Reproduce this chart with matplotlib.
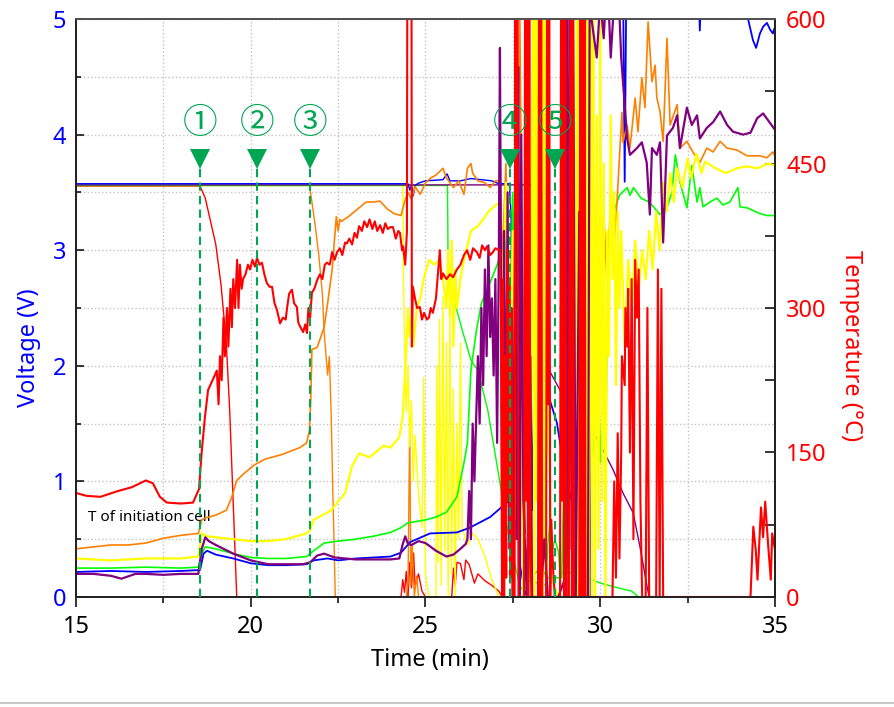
import matplotlib
matplotlib.use("Agg")
import matplotlib.pyplot as plt
from matplotlib.lines import Line2D
from matplotlib.ticker import MultipleLocator

plt.rcParams['font.family'] = ['Noto Sans', 'DejaVu Sans']

##  Cell voltages (V) : (time [min], value)
red_volt = [(15.0,3.555),(18.55,3.555),(18.7,3.45),(18.85,3.25),(19.0,3.05),(19.15,2.7),(19.3,2.2),
            (19.4,1.6),(19.5,0.8),(19.6,0.0),(24.3,0.0),(24.35,0.15),(24.4,0.04),(24.45,0.22),(24.5,0.0),
            (24.55,0.3),(24.6,0.08),(24.66,0.38),(24.7,0.1),(24.8,0.2),(24.9,0.05),(25.0,0.0),(25.75,0.0),
            (25.8,0.25),(25.85,0.1),(25.9,0.3),(26.0,0.29),(26.1,0.15),(26.15,0.32),(26.25,0.28),(26.4,0.12),
            (26.5,0.2),(26.7,0.14),(26.9,0.1),(27.1,0.05),(27.2,0.0),(35.0,0.0)]
orange_volt = [(15.0,3.56),(21.68,3.56),(21.75,3.42),(21.85,3.2),(21.95,2.95),(22.05,2.62),(22.1,2.3),
               (22.15,2.1),(22.2,1.92),(22.25,2.08),(22.3,1.6),(22.35,0.9),(22.42,0.0),(24.45,0.0),(24.5,0.12),
               (24.55,1.55),(24.58,0.1),(24.62,0.45),(24.68,0.0),(24.75,0.18),(24.8,0.0),(35.0,0.0)]
yellow_volt = [(15.0,3.56),(24.35,3.56),(24.37,2.8),(24.4,2.2),(24.45,1.6),(24.5,2.0),(24.55,1.3),(24.6,1.7),
               (24.65,1.0),(24.7,1.4),(24.8,0.9),(24.9,0.6),(24.95,1.9),(25.0,0.2),(25.1,0.0),(25.3,0.0),
               (25.32,2.0),(25.36,0.3),(25.4,2.4),(25.45,0.1),(25.5,2.6),(25.55,0.4),(25.6,2.2),(25.65,0.0),
               (25.7,2.5),(25.75,0.2),(25.8,1.8),(25.85,0.0),(25.9,1.5),(25.95,0.5),(26.0,2.2),(26.05,0.6),
               (26.2,0.45),(26.35,0.55),(26.5,0.5),(26.7,0.35),(26.9,0.15),(27.1,0.0),(35.0,0.0)]
green_volt = [(15.0,3.56),(25.63,3.56),(25.65,2.75),(25.7,2.74),(25.9,2.48),(26.05,2.31),(26.3,2.05),
              (26.5,1.96),(26.78,1.62),(27.07,1.10),(27.35,0.58),(27.55,0.29),(27.7,0.1),(27.8,0.05),
              (28.0,0.15),(28.2,0.12),(28.45,0.1),(28.5,0.45),(28.55,0.62),(28.6,0.35),(28.7,0.5),(28.8,0.4),
              (28.85,0.2),(29.0,0.22),(29.3,0.2),(29.6,0.17),(30.0,0.12),(30.5,0.08),(30.9,0.05),(31.1,0.0),
              (35.0,0.0)]
purple_volt = [(15.0,3.565),(28.28,3.565),(28.32,2.5),(28.36,1.9),(28.56,1.95),(28.85,1.79),(29.05,1.62),
               (29.33,1.59),(29.79,1.44),(30.08,1.27),(30.37,1.10),(30.65,0.90),(30.94,0.73),(31.14,0.43),
               (31.34,0.09),(31.4,0.0),(35.0,0.0)]
blue_volt = [(15.0,3.575),(24.5,3.575),(24.55,3.52),(24.6,3.56),(24.65,3.47),(24.7,3.56),(24.8,3.58),
             (25.0,3.6),(25.5,3.61),(25.62,3.66),(25.7,3.6),(26.0,3.6),(26.3,3.62),(26.6,3.61),(26.9,3.6),
             (27.1,3.575),(27.4,3.575),(27.45,3.3),(27.5,1.0),(27.55,2.0),(27.6,1.2),(27.65,1.8),(27.7,0.3),
             (27.8,0.1),(27.9,0.0),(35.0,0.0)]

##  Cell temperatures (degC) : (time [min], value)
red_temp = [(15.0,108),(15.3,105),(15.7,104),(16.2,110),(16.6,114),(17.0,121),(17.2,118),(17.4,104),(17.6,98),
            (18.0,97),(18.35,98),(18.52,112),(18.6,152),(18.69,187),(18.78,215),(18.92,226),(19.03,235),
            (19.08,200),(19.12,250),(19.17,225),(19.22,290),(19.26,250),(19.32,300),(19.36,260),(19.42,320),
            (19.46,280),(19.5,330),(19.55,300),(19.61,350),(19.65,300),(19.69,345),(19.74,320),(19.78,330),
            (19.85,335),(19.92,345),(19.98,340),(20.05,350),(20.12,343),(20.18,352),(20.25,345),(20.32,347),
            (20.39,335),(20.46,326),(20.54,322),(20.61,322),(20.68,305),(20.75,298),(20.8,290),(20.84,284),
            (20.92,290),(21.0,288),(21.04,300),(21.1,315),(21.18,319),(21.24,305),(21.32,301),(21.36,285),
            (21.41,281),(21.5,275),(21.56,283),(21.61,274),(21.65,300),(21.7,290),(21.75,316),(21.82,320),
            (21.9,329),(21.98,335),(22.05,330),(22.12,345),(22.18,347),(22.26,345),(22.33,358),(22.4,350),
            (22.47,358),(22.55,362),(22.62,355),(22.7,368),(22.75,367),(22.82,372),(22.9,366),(22.97,378),
            (23.04,373),(23.1,385),(23.18,380),(23.25,390),(23.33,384),(23.4,392),(23.48,382),(23.55,390),
            (23.62,380),(23.7,386),(23.78,378),(23.85,388),(23.92,382),(24.0,384),(24.07,384),(24.15,372),
            (24.22,380),(24.27,378),(24.33,360),(24.36,364),(24.42,345),(24.47,380),(24.48,650),(24.6,650),
            (24.61,260),(24.64,322),(24.7,310),(24.76,300),(24.84,301),(24.9,288),(24.96,295),(25.04,288),
            (25.1,290),(25.15,300),(25.21,295),(25.3,310),(25.41,360),(25.45,330),(25.5,336),(25.6,330),
            (25.7,335),(25.79,332),(25.9,340),(26.0,345),(26.1,355),(26.19,360),(26.28,350),(26.36,362),
            (26.47,358),(26.55,352),(26.62,365),(26.7,360),(26.76,364),(26.85,355),(26.93,358),(27.0,362),
            (27.13,360),(27.16,300),(27.19,0),(27.22,330),(27.25,0),(27.28,250),(27.31,20),(27.34,360),
            (27.37,100),(27.4,330),(27.43,20),(27.46,300),(27.49,0),(27.55,0),(27.57,650),(27.6,400),
            (27.63,650),(27.66,0),(27.82,0),(27.85,650),(27.88,100),(27.91,650),(27.94,0),(27.97,650),
            (28.0,60),(28.03,0),(28.22,0),(28.25,650),(28.28,0),(28.31,650),(28.34,0),(28.45,0),(28.48,650),
            (28.51,200),(28.54,650),(28.57,0),(28.6,80),(28.65,30),(28.7,0),(28.85,0),(28.88,650),(28.91,100),
            (28.94,650),(28.97,0),(29.0,650),(29.03,0),(29.1,0),(29.13,500),(29.16,650),(29.19,0),(29.22,650),
            (29.25,0),(29.4,0),(29.43,650),(29.46,0),(29.49,650),(29.52,0),(29.55,650),(29.58,0),(29.7,0),
            (30.35,0),(30.4,120),(30.45,20),(30.5,170),(30.55,40),(30.6,150),(30.62,250),(30.7,220),(30.72,300),
            (30.77,260),(30.8,320),(30.85,150),(30.9,330),(30.95,60),(31.0,350),(31.05,290),(31.1,340),
            (31.15,100),(31.2,0),(31.3,0),(31.35,300),(31.4,0),(31.6,0),(31.65,340),(31.7,0),(31.75,320),
            (31.8,0),(34.3,0),(34.38,73),(34.45,49),(34.5,18),(34.6,93),(34.66,62),(34.72,99),(34.8,56),
            (34.88,18),(34.92,66),(35.0,49)]
orange_temp = [(15.0,50),(15.5,52),(16.0,54),(16.5,54),(17.0,56),(17.5,61),(18.0,64),(18.5,66),(18.6,80),
               (18.7,82),(19.0,85),(19.3,90),(19.45,103),(19.6,121),(19.8,128),(20.1,137),(20.4,143),(20.9,148),
               (21.4,155),(21.6,160),(21.68,173),(21.72,208),(21.75,257),(21.9,259),(22.1,280),(22.2,305),
               (22.33,340),(22.4,373),(22.45,395),(22.5,380),(22.55,392),(22.6,390),(22.8,395),(23.1,404),
               (23.3,410),(23.5,410),(23.7,411),(23.9,403),(24.1,398),(24.3,396),(24.4,410),(24.5,420),
               (24.6,413),(24.7,426),(24.85,418),(25.0,430),(25.15,435),(25.3,438),(25.5,445),(25.6,435),
               (25.8,425),(25.95,432),(26.1,418),(26.2,445),(26.3,450),(26.35,440),(26.5,432),(26.7,430),
               (26.85,425),(27.0,432),(27.13,432),(27.2,350),(27.3,450),(27.4,280),(27.5,120),(27.6,400),
               (27.7,600),(27.8,200),(27.9,650),(28.0,300),(28.1,650),(28.2,400),(28.3,200),(28.4,80),(28.5,0),
               (29.5,0),(29.55,100),(29.6,50),(29.7,300),(29.8,200),(29.9,420),(30.0,280),(30.1,400),(30.2,320),
               (30.28,397),(30.36,349),(30.48,410),(30.62,503),(30.65,472),(30.77,490),(30.85,466),(31.0,518),
               (31.08,483),(31.19,539),(31.28,508),(31.37,597),(31.48,535),(31.57,552),(31.62,518),(31.71,504),
               (31.8,473),(31.91,580),(32.0,490),(32.2,511),(32.28,466),(32.48,473),(32.65,462),(32.85,451),
               (33.05,466),(33.23,462),(33.43,473),(33.63,466),(33.91,464),(34.2,458),(34.57,458),(34.77,456),
               (34.94,462),(35.0,458)]
yellow_temp = [(15.0,40),(16.0,38),(17.0,40),(18.0,40),(18.5,42),(18.6,66),(18.75,63),(19.0,62),(19.5,60),
               (20.0,58),(20.5,58),(21.0,60),(21.6,66),(21.7,70),(21.8,80),(22.3,90),(22.7,108),(22.9,136),
               (23.1,149),(23.4,145),(23.8,157),(24.0,155),(24.25,166),(24.35,187),(24.4,222),(24.45,257),
               (24.5,300),(24.55,270),(24.6,290),(24.65,260),(24.75,300),(24.85,310),(24.95,330),(25.1,350),
               (25.25,345),(25.4,350),(25.5,330),(25.6,300),(25.65,360),(25.7,290),(25.75,370),(25.8,260),
               (25.85,340),(25.9,300),(26.0,330),(26.1,350),(26.3,380),(26.5,385),(26.65,392),(26.8,400),
               (26.95,405),(27.13,410),(27.2,300),(27.3,430),(27.4,200),(27.5,380),(27.6,80),(27.7,300),(27.8,0),
               (27.9,250),(28.0,50),(28.08,650),(28.11,0),(28.14,650),(28.17,100),(28.2,650),(28.23,0),(28.26,650),
               (28.29,50),(28.32,650),(28.35,0),(28.38,600),(28.41,50),(28.44,650),(28.47,150),(28.5,650),
               (28.53,200),(28.6,20),(28.8,0),(29.3,0),(29.33,650),(29.36,0),(29.39,650),(29.42,100),(29.45,650),
               (29.48,0),(29.51,650),(29.54,100),(29.57,650),(29.6,0),(29.63,650),(29.67,0),(29.72,650),
               (29.76,0),(29.8,650),(29.85,0),(29.9,500),(29.95,50),(30.0,600),(30.05,100),(30.1,450),(30.15,0),
               (30.2,380),(30.25,250),(30.3,500),(30.35,330),(30.4,420),(30.45,220),(30.5,400),(30.55,300),
               (30.6,380),(30.7,260),(30.8,350),(30.9,300),(31.0,370),(31.1,320),(31.2,360),(31.3,330),
               (31.4,380),(31.5,340),(31.6,400),(31.7,360),(31.8,430),(31.9,400),(32.0,440),(32.1,410),
               (32.2,445),(32.35,425),(32.5,455),(32.6,435),(32.75,460),(32.9,440),(33.0,452),(33.3,445),
               (33.6,440),(33.9,445),(34.2,447),(34.5,445),(34.8,450),(35.0,448)]
green_temp = [(15.0,30),(16.0,30),(17.0,31),(18.0,30),(18.5,31),(18.6,45),(18.7,52),(19.0,50),(19.5,45),
              (20.0,41),(20.5,40),(21.0,40),(21.6,42),(21.8,48),(22.1,56),(22.5,58),(23.0,60),(23.5,63),
              (24.0,67),(24.3,72),(24.5,77),(25.0,80),(25.3,83),(25.6,88),(25.9,104),(26.1,139),(26.2,160),
              (26.3,235),(26.45,275),(26.6,305),(26.8,322),(27.0,340),(27.15,355),(27.3,370),(27.4,250),
              (27.5,420),(27.6,150),(27.7,300),(27.8,40),(27.9,200),(28.0,20),(28.3,30),(28.5,20),(28.9,20),
              (29.0,200),(29.05,30),(29.2,250),(29.3,50),(29.4,300),(29.5,120),(29.6,390),(29.65,60),(29.7,260),
              (29.8,150),(29.9,240),(30.0,140),(30.1,250),(30.15,130),(30.2,290),(30.28,389),(30.36,397),
              (30.55,417),(30.77,425),(30.85,417),(30.95,425),(31.17,414),(31.4,410),(31.55,404),(31.71,397),
              (31.91,404),(32.05,420),(32.15,459),(32.28,431),(32.48,404),(32.62,448),(32.77,410),(32.85,425),
              (32.94,405),(33.14,410),(33.34,414),(33.51,407),(33.71,410),(33.94,425),(34.0,405),(34.2,404),
              (34.57,398),(34.77,396),(35.0,396)]
blue_temp = [(15.0,26),(16.0,27),(17.0,26),(18.0,27),(18.55,28),(18.65,45),(18.75,48),(19.0,44),(19.5,40),
             (20.0,35),(20.5,33),(21.0,33),(21.6,34),(21.8,38),(22.2,40),(22.5,38),(23.0,40),(23.5,41),
             (24.0,42),(24.3,46),(24.56,57),(25.13,66),(25.9,67),(26.27,72),(26.85,83),(27.33,98),(27.47,103),
             (27.5,200),(27.55,60),(27.6,180),(27.65,80),(27.7,230),(27.75,100),(27.8,205),(27.85,66),(27.9,220),
             (27.95,80),(28.0,240),(28.05,90),(28.1,200),(28.15,120),(28.2,230),(28.28,180),(28.36,218),
             (28.56,204),(28.76,181),(28.93,142),(29.05,119),(29.28,87),(29.42,59),(29.62,15),(29.7,0),
             (29.75,300),(29.78,650),(30.65,650),(30.7,431),(30.75,650),(32.8,650),(32.85,588),(32.9,650),
             (34.2,650),(34.23,600),(34.37,578),(34.46,570),(34.57,585),(34.66,592),(34.77,596),(34.86,589),
             (34.94,585),(35.0,592)]
purple_temp = [(15.0,24),(15.5,24),(16.0,22),(16.3,19),(16.7,24),(17.0,24),(17.5,23),(18.0,24),(18.5,24),
               (18.6,50),(18.7,62),(18.8,58),(19.0,54),(19.5,45),(20.0,38),(20.5,34),(21.0,34),(21.5,34),
               (21.7,36),(21.9,43),(22.1,45),(22.4,41),(23.0,39),(24.0,39),(24.25,40),(24.35,55),(24.42,63),
               (24.5,55),(24.6,54),(24.8,58),(25.0,56),(25.3,48),(25.6,42),(25.8,44),(26.0,50),(26.15,55),
               (26.2,60),(26.25,110),(26.3,60),(26.35,180),(26.4,120),(26.5,250),(26.55,180),(26.6,300),
               (26.65,220),(26.7,340),(26.75,250),(26.8,365),(26.85,270),(26.9,310),(26.95,230),(27.0,330),
               (27.05,160),(27.1,360),(27.13,570),(27.16,350),(27.2,60),(27.25,380),(27.3,100),(27.35,420),
               (27.4,50),(27.45,300),(27.5,0),(27.58,500),(27.62,60),(27.66,550),(27.7,0),(27.74,480),
               (27.8,100),(27.9,0),(28.0,250),(28.05,0),(28.3,0),(28.4,60),(28.5,0),(28.8,0),(29.0,20),
               (29.05,650),(29.09,0),(29.13,650),(29.18,50),(29.22,650),(29.3,0),(29.4,400),(29.45,0),
               (29.65,0),(29.7,650),(29.75,600),(29.9,560),(30.0,620),(30.1,580),(30.2,650),(30.3,560),
               (30.4,620),(30.5,650),(30.6,560),(30.77,476),(30.85,459),(31.05,466),(31.19,472),(31.33,451),
               (31.42,397),(31.48,466),(31.62,459),(31.71,472),(31.8,368),(31.91,479),(32.08,487),(32.2,500),
               (32.28,466),(32.48,508),(32.62,490),(32.77,500),(32.85,476),(33.05,487),(33.23,493),(33.43,504),
               (33.63,490),(33.8,483),(34.09,480),(34.3,482),(34.49,497),(34.66,502),(34.86,492),(35.0,485)]

##  Propagation events (min)
event_t = [18.55, 20.18, 21.71, 27.43, 28.71]
event_labels = ['①', '②', '③', '④', '⑤']

col = {'red': '#ff0000', 'orange': '#ff8000', 'yellow': '#ffff00',
       'green': '#00ff00', 'blue': '#0000ff', 'purple': '#800080'}
mark_green = '#00a651'


fig = plt.figure(figsize=(8.95, 7.07), dpi=100)
ax = fig.add_axes([0.0849, 0.1556, 0.781, 0.8175])
ax2 = ax.twinx()

##  Voltages on the left axis
for name, data in [('red', red_volt), ('orange', orange_volt), ('yellow', yellow_volt),
                   ('green', green_volt), ('purple', purple_volt), ('blue', blue_volt)]:
    t, v = zip(*data)
    ax.plot(t, v, color=col[name], lw=1.0)

##  Temperatures on the right axis
for name, data, lw in [('green', green_temp, 1.2), ('blue', blue_temp, 1.3), ('orange', orange_temp, 1.2),
                       ('yellow', yellow_temp, 1.6), ('purple', purple_temp, 1.6), ('red', red_temp, 1.5)]:
    t, v = zip(*data)
    ax2.plot(t, v, color=col[name], lw=lw)

##  Event markers (in voltage units, drawn above everything)
ax2.vlines(event_t, 0, 3.71, colors=mark_green, linestyles=(0, (4, 2.5)), lw=1.5,
           transform=ax.transData, zorder=10)
ax2.plot(event_t, [3.79] * len(event_t), 'v', ms=14, color=mark_green, mew=0,
         transform=ax.transData, zorder=11)
for x, lab in zip(event_t, event_labels):
    ax2.text(x, 4.10, lab, transform=ax.transData, color=mark_green, fontsize=25,
             ha='center', va='center', family=['Noto Sans CJK JP', 'DejaVu Sans'], zorder=11)

ax.text(15.34, 0.66, 'T of initiation cell', fontsize=11, color='black', va='baseline')

##  Axes limits / ticks
ax.set_xlim(15, 35)
ax.set_ylim(0, 5)
ax2.set_ylim(0, 600)

ax.xaxis.set_major_locator(MultipleLocator(5))
ax.xaxis.set_minor_locator(MultipleLocator(2.5))
ax.yaxis.set_major_locator(MultipleLocator(1))
ax.yaxis.set_minor_locator(MultipleLocator(0.5))
ax2.yaxis.set_major_locator(MultipleLocator(150))
ax2.yaxis.set_minor_locator(MultipleLocator(75))

ax.grid(which='both', linestyle=':', color='#c4c4c4', lw=1.0)
ax.set_axisbelow(True)

ax.tick_params(axis='x', which='major', direction='out', length=7, width=1.1, labelsize=17, pad=6)
ax.tick_params(axis='x', which='minor', direction='out', length=4.5, width=1.1)
ax.tick_params(axis='y', which='major', direction='in', length=5.5, width=1.1, labelsize=17,
               labelcolor='#0000ff', pad=7)
ax.tick_params(axis='y', which='minor', direction='in', length=3.5, width=1.1)
ax2.tick_params(axis='y', which='major', direction='in', length=7, width=1.1, labelsize=17,
                labelcolor='#ff0000', pad=8)
ax2.tick_params(axis='y', which='minor', direction='in', length=7, width=1.1)

for a in (ax, ax2):
    for s in a.spines.values():
        s.set_linewidth(1.3)
        s.set_color('#222222')
ax2.spines['top'].set_color('#555555')

fig.text(0.032, 0.508, 'Voltage (V)', rotation=90, color='#0000ff', fontsize=17, ha='center', va='center')
fig.text(0.951, 0.511, 'Temperature (°C)', rotation=270, color='#ff0000', fontsize=17,
         ha='center', va='center')
fig.text(0.480, 0.0665, 'Time (min)', color='black', fontsize=17, ha='center', va='center')

fig.add_artist(Line2D([0, 1], [0.0057, 0.0057], color='#c8c8c8', lw=1.5, transform=fig.transFigure))

fig.savefig('out.png', dpi=100)
